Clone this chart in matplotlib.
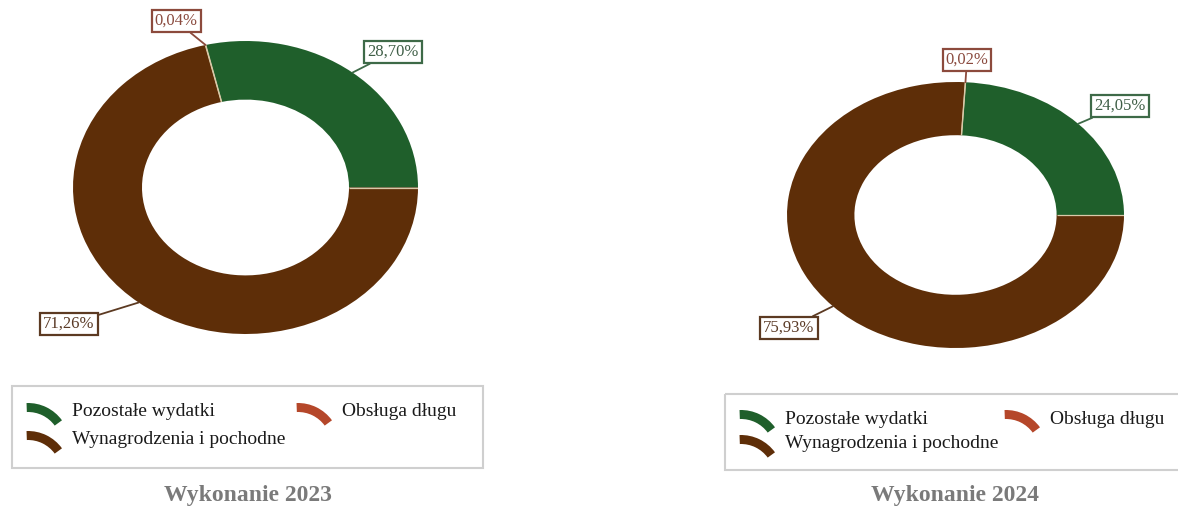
import numpy as np
import matplotlib
matplotlib.use("Agg")
import matplotlib.pyplot as plt
from matplotlib.patches import Wedge, Rectangle

# ---- data ----
categories = ["Pozostałe wydatki", "Obsługa długu", "Wynagrodzenia i pochodne"]
share_2023 = [28.70, 0.04, 71.26]
share_2024 = [24.05, 0.02, 75.93]
titles = ["Wykonanie 2023", "Wykonanie 2024"]

COLORS = ["#1f5f2b", "#b5472a", "#5e2e08"]
LBL_EDGE = ["#3e6a48", "#8c4a3c", "#5c3a22"]
LBL_TEXT = ["#3e5e46", "#8a4a3e", "#5a3a26"]

W, H = 1178, 507
plt.rcParams["font.family"] = ["Liberation Serif", "DejaVu Serif"]
fig = plt.figure(figsize=(W / 100, H / 100), dpi=100)

# overlay axes in image pixel coordinates (y down)
ov = fig.add_axes([0, 0, 1, 1], zorder=5)
ov.set_xlim(0, W); ov.set_ylim(H, 0); ov.axis("off")

def fr(x0, y0, x1, y1):
    return [x0 / W, 1 - y1 / H, (x1 - x0) / W, (y1 - y0) / H]

panels = [
    dict(vals=share_2023, box=fr(73, 41, 418, 334),
         lbl=[(393, 52), (176, 21), (69, 324)],
         leg=(12, 386, 483, 468), cols=(72, 342), rows=(412, 440), title_xy=(248, 496)),
    dict(vals=share_2024, box=fr(787, 82, 1124, 348),
         lbl=[(1120, 106), (967, 60), (789, 328)],
         leg=(725, 394, 1182, 470), cols=(785, 1050), rows=(419, 444), title_xy=(955, 496)),
]

for p, title in zip(panels, titles):
    ax = fig.add_axes(p["box"])
    wedges, _ = ax.pie(p["vals"], colors=COLORS, startangle=0, counterclock=True,
                       radius=1.0, wedgeprops=dict(width=0.4, edgecolor="none"))
    ax.set_aspect("auto")
    ax.set_xlim(-1, 1); ax.set_ylim(-1, 1)
    # thin light separators between slices
    for w in wedges:
        a = np.deg2rad(w.theta1)
        ax.plot([0.6 * np.cos(a), np.cos(a)], [0.6 * np.sin(a), np.sin(a)],
                color="#d8c9a8", lw=0.9, solid_capstyle="butt")
    for i, w in enumerate(wedges):
        mid = np.deg2rad((w.theta1 + w.theta2) / 2)
        ax.annotate(f"{p['vals'][i]:.2f}%".replace(".", ","),
                    xy=(np.cos(mid), np.sin(mid)), xycoords="data",
                    xytext=p["lbl"][i], textcoords=ov.transData,
                    ha="center", va="center", fontsize=12, color=LBL_TEXT[i],
                    bbox=dict(boxstyle="square,pad=0.18", fc="white", ec=LBL_EDGE[i], lw=1.6),
                    arrowprops=dict(arrowstyle="-", color=LBL_EDGE[i], lw=1.3,
                                    shrinkA=0, shrinkB=0), zorder=6, annotation_clip=False)

    # legend drawn by hand
    x0, y0, x1, y1 = p["leg"]
    ov.add_patch(Rectangle((x0, y0), x1 - x0, y1 - y0, fill=False, ec="#cfcfcf", lw=1.5,
                           clip_on=False))
    slots = [(p["cols"][0], p["rows"][0]), (p["cols"][1], p["rows"][0]), (p["cols"][0], p["rows"][1])]
    for (tx, ty), name, c in zip(slots, categories, COLORS):
        ov.add_patch(Wedge((tx - 44, ty + 33), 42, 268, 324, width=9, fc=c, ec="none"))
        ov.text(tx, ty, name, fontsize=14, color="#1a1a1a", ha="left", va="center")
    ov.text(p["title_xy"][0], p["title_xy"][1], title, fontsize=17, fontweight="bold",
            color="#7a7a7a", ha="center", va="center")

fig.savefig("out.png", dpi=100, facecolor="white")
